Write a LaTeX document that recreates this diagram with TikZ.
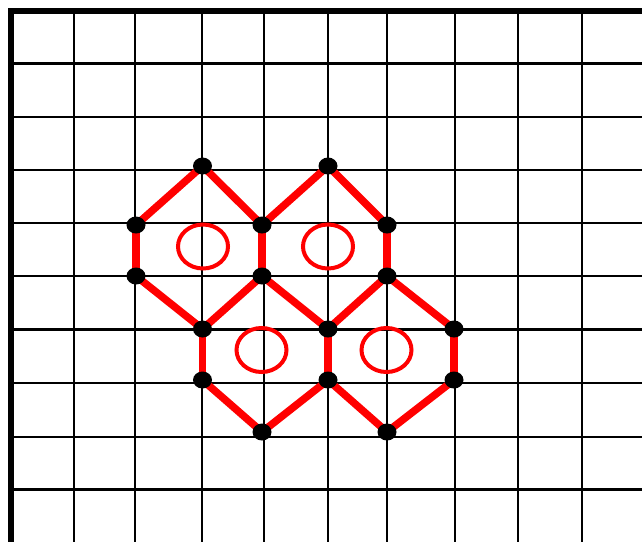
\documentclass[tikz,border=0pt]{standalone}
\usetikzlibrary{shapes.geometric}
\pgfdeclarelayer{gridlayer}
\pgfdeclarelayer{bondlayer}
\pgfsetlayers{gridlayer,bondlayer,main}
\definecolor{hexred}{RGB}{255,0,0}
\tikzset{
  gridline/.style={line width=2.5pt,black},
  borderline/.style={line width=5.5pt,black},
  bond/.style={line width=7.5pt,hexred},
  atom/.style={ellipse,fill=black,inner sep=0pt,minimum width=19pt,minimum height=17pt},
  ring/.style={ellipse,draw=hexred,line width=4pt,inner sep=0pt,minimum width=50pt,minimum height=44pt}
}
\begin{document}
\begin{tikzpicture}[x=1pt,y=-1pt]
\useasboundingbox (0,0) rectangle (642,541);
\clip (0,0) rectangle (642,541);
\begin{pgfonlayer}{gridlayer}
\fill[white] (0,0) rectangle (642,541);
\foreach \gx in {74,135,202,264,328,387,455,518,582}
  \draw[gridline] (\gx,11) -- (\gx,545);
\foreach \gy in {63.5,117,170,223,276,329.5,383,437,489.5}
  \draw[gridline] (11,\gy) -- (646,\gy);
\draw[borderline] (11,545) -- (11,11) -- (646,11);
\end{pgfonlayer}
% atoms
\node[atom] (a) at (202.5,166) {};
\node[atom] (b) at (328,166) {};
\node[atom] (c) at (136,225) {};
\node[atom] (d) at (262,225) {};
\node[atom] (e) at (387,225) {};
\node[atom] (f) at (136,276) {};
\node[atom] (g) at (262,276) {};
\node[atom] (h) at (387,276) {};
\node[atom] (i) at (202.5,329) {};
\node[atom] (j) at (328,329) {};
\node[atom] (k) at (454,329) {};
\node[atom] (l) at (202.5,380) {};
\node[atom] (m) at (328,380) {};
\node[atom] (n) at (454,380) {};
\node[atom] (o) at (262,432) {};
\node[atom] (p) at (387,432) {};
% rings
\node[ring] (r1) at (203,246.5) {};
\node[ring] (r2) at (328,246.5) {};
\node[ring] (r3) at (261.5,350) {};
\node[ring] (r4) at (386.5,350) {};
% bonds
\begin{pgfonlayer}{bondlayer}
\foreach \u/\v in {a/c,a/d,c/f,d/g,f/i,g/i,b/d,b/e,e/h,g/j,h/j,i/l,j/m,l/o,m/o,h/k,k/n,m/p,n/p}
  \draw[bond] (\u.center) -- (\v.center);
\end{pgfonlayer}
\end{tikzpicture}
\end{document}
